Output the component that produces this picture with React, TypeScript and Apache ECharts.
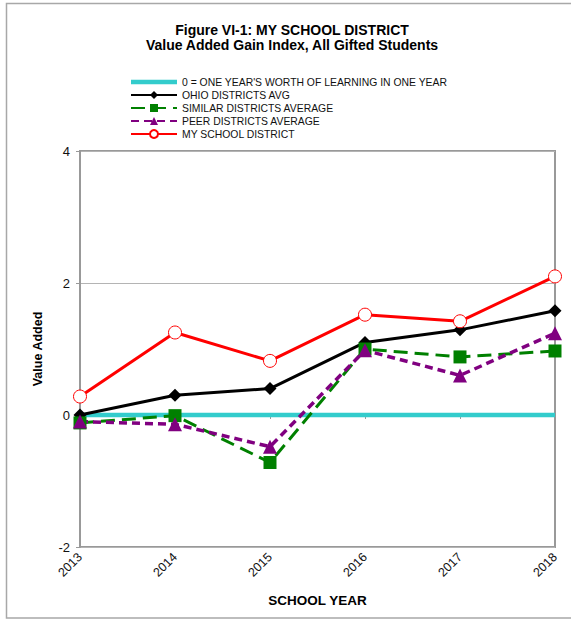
import React, { useEffect, useRef } from "react";
import * as echarts from "echarts";

const years = ["2013", "2014", "2015", "2016", "2017", "2018"];
const baseline = [0, 0, 0, 0, 0, 0];
const ohioAvg = [0.0, 0.3, 0.4, 1.1, 1.29, 1.58];
const similarAvg = [-0.12, -0.01, -0.72, 1.0, 0.88, 0.97];
const peerAvg = [-0.1, -0.14, -0.48, 0.98, 0.6, 1.24];
const mySchool = [0.28, 1.25, 0.82, 1.52, 1.42, 2.1];
const yTicks = { min: -2, max: 4, interval: 2 };

const FONT = "Liberation Sans, Arial, sans-serif";

const names = [
  "0 = ONE YEAR'S WORTH OF LEARNING IN ONE YEAR",
  "OHIO DISTRICTS AVG",
  "SIMILAR DISTRICTS AVERAGE",
  "PEER DISTRICTS AVERAGE",
  "MY SCHOOL DISTRICT",
];

export default function App() {
  const ref = useRef<HTMLDivElement>(null);
  useEffect(() => {
    if (!ref.current) return;
    const chart = echarts.init(ref.current, undefined, { renderer: "svg" });
    chart.setOption({
      animation: false,
      textStyle: { fontFamily: FONT },
      graphic: [
        {
          type: "rect",
          shape: { x: 6.5, y: 3.5, width: 600, height: 614.5 },
          style: { fill: "none", stroke: "#a8a8a8", lineWidth: 1.5 },
          silent: true,
        },
        {
          type: "text",
          x: 292,
          y: 23,
          style: {
            text: "Figure VI-1: MY SCHOOL DISTRICT\nValue Added Gain Index, All Gifted Students",
            fontFamily: FONT,
            fontSize: 14,
            fontWeight: "bold",
            lineHeight: 14.5,
            fill: "#000",
            align: "center",
          },
        },
      ],
      legend: {
        orient: "vertical",
        left: 130,
        top: 77,
        itemWidth: 46,
        itemHeight: 10,
        itemGap: 3,
        padding: 0,
        textStyle: { fontFamily: FONT, fontSize: 10.4, color: "#111" },
        data: [
          { name: names[0], icon: "path://M0,0H46V4.5H0Z" },
          names[1],
          names[2],
          names[3],
          names[4],
        ],
      },
      grid: {
        left: 80,
        right: 16,
        top: 151,
        bottom: 72,
        show: true,
        borderColor: "#999",
        borderWidth: 2,
      },
      xAxis: {
        type: "category",
        data: years,
        boundaryGap: false,
        name: "SCHOOL YEAR",
        nameLocation: "middle",
        nameGap: 46,
        nameTextStyle: { fontFamily: FONT, fontSize: 13.5, fontWeight: "bold", color: "#000" },
        axisLine: { lineStyle: { color: "#999", width: 2 } },
        axisTick: { show: true, length: 4, alignWithLabel: true, lineStyle: { color: "#999" } },
        axisLabel: { rotate: 45, fontFamily: FONT, fontSize: 12.5, color: "#111", margin: 8 },
        splitLine: { show: false },
      },
      yAxis: {
        type: "value",
        min: yTicks.min,
        max: yTicks.max,
        interval: yTicks.interval,
        name: "Value Added",
        nameLocation: "middle",
        nameGap: 36,
        nameTextStyle: { fontFamily: FONT, fontSize: 12.5, fontWeight: "bold", color: "#000" },
        axisLine: { show: true, lineStyle: { color: "#999", width: 2 } },
        axisTick: { show: true, length: 4, lineStyle: { color: "#999" } },
        axisLabel: { fontFamily: FONT, fontSize: 13, color: "#111", margin: 10 },
        splitLine: { show: true, lineStyle: { color: "#b4b4b4", width: 1 } },
      },
      series: [
        {
          name: names[0],
          type: "line",
          data: baseline,
          symbol: "none",
          lineStyle: { color: "#33CCCC", width: 4.5 },
          itemStyle: { color: "#33CCCC" },
        },
        {
          name: names[1],
          type: "line",
          data: ohioAvg,
          symbol: "diamond",
          symbolSize: 13,
          lineStyle: { color: "#000", width: 3 },
          itemStyle: { color: "#000" },
        },
        {
          name: names[2],
          type: "line",
          data: similarAvg,
          symbol: "rect",
          symbolSize: 13,
          lineStyle: { color: "#008000", width: 3, type: [14, 7] },
          itemStyle: { color: "#008000" },
        },
        {
          name: names[3],
          type: "line",
          data: peerAvg,
          symbol: "triangle",
          symbolSize: 14,
          lineStyle: { color: "#800080", width: 3.5, type: [8, 5] },
          itemStyle: { color: "#800080" },
        },
        {
          name: names[4],
          type: "line",
          data: mySchool,
          symbol: "circle",
          symbolSize: 13,
          lineStyle: { color: "#FF0000", width: 3 },
          itemStyle: { color: "#fff", borderColor: "#FF0000", borderWidth: 1 },
        },
      ],
    });
    return () => chart.dispose();
  }, []);
  return (
    <div
      ref={ref}
      style={{ position: "fixed", left: 0, top: 0, width: 571, height: 619, background: "#fff" }}
    />
  );
}
